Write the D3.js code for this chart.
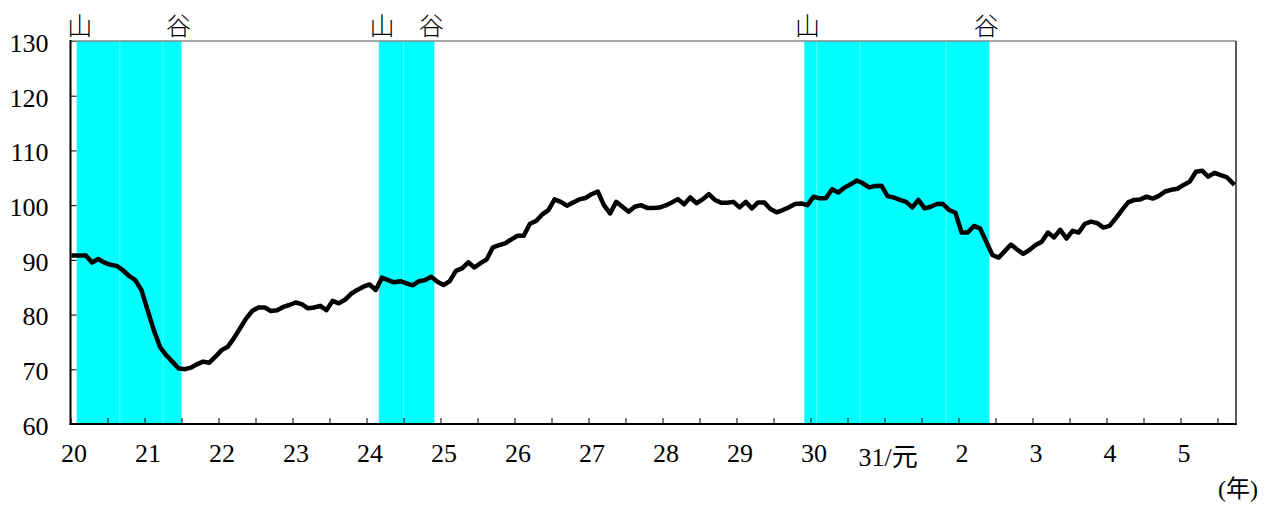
<!DOCTYPE html>
<html>
<head>
<meta charset="utf-8">
<script src="https://cdnjs.cloudflare.com/ajax/libs/d3/7.8.5/d3.min.js"></script>
<style>
  body { margin: 0; background: #fff; }
  .tick line { stroke: #000; }
  .serif { font-family: "Liberation Serif", serif; }
  .mixed { font-family: "Liberation Serif", "Noto Sans CJK JP", serif; }
  .cjk { font-family: "Noto Sans CJK JP", sans-serif; }
</style>
</head>
<body>
<div id="chart"></div>
<script>
// monthly index, 平成20年1月 (i = 0) .. 令和5年9月 (i = 188)
var values = [
  90.8, 90.8, 90.8, 89.5, 90.15, 89.5, 89.1, 88.9, 88.1, 87.05, 86.3, 84.5,
  80.8, 77.2, 74.1, 72.6, 71.4, 70.2, 70.0, 70.3, 70.9, 71.4, 71.2, 72.3,
  73.5, 74.1, 75.7, 77.5, 79.3, 80.7, 81.3, 81.3, 80.65, 80.8, 81.4, 81.75,
  82.2, 81.9, 81.15, 81.3, 81.6, 80.8, 82.5, 82.05, 82.7, 83.8, 84.5, 85.1,
  85.5, 84.5, 86.75, 86.3, 85.9, 86.1, 85.7, 85.35, 86.1, 86.3, 86.9, 86.0,
  85.4, 86.1, 88.0, 88.45, 89.55, 88.6, 89.4, 90.1, 92.3, 92.7, 93.0, 93.75,
  94.4, 94.4, 96.6, 97.1, 98.3, 99.1, 101.05, 100.6, 99.9, 100.5, 101.05, 101.3,
  102.0, 102.5, 100.0, 98.5, 100.6, 99.7, 98.8, 99.7, 100.0, 99.5, 99.5, 99.55,
  99.95, 100.5, 101.1, 100.15, 101.4, 100.35, 101.05, 102.0, 100.95, 100.45, 100.45, 100.6,
  99.6, 100.6, 99.4, 100.5, 100.5, 99.3, 98.7, 99.1, 99.6, 100.2, 100.3, 100.0,
  101.55, 101.25, 101.25, 102.9, 102.3, 103.2, 103.8, 104.5, 104.0, 103.25, 103.5, 103.55,
  101.65, 101.4, 100.95, 100.6, 99.6, 100.95, 99.4, 99.7, 100.2, 100.2, 99.1, 98.6,
  95.0, 95.0, 96.2, 95.75, 93.3, 90.9, 90.4, 91.6, 92.8, 91.9, 91.1, 91.8,
  92.7, 93.3, 95.0, 94.1, 95.5, 93.9, 95.3, 95.0, 96.6, 97.0, 96.7, 95.9,
  96.2, 97.6, 99.1, 100.5, 100.95, 101.05, 101.55, 101.2, 101.7, 102.5, 102.8, 103.0,
  103.7, 104.3, 106.1, 106.3, 105.2, 105.9, 105.5, 105.1, 104.0
];

var yearLabels = ["20", "21", "22", "23", "24", "25", "26", "27", "28", "29",
                  "30", "31/元", "2", "3", "4", "5"];
var yearMonths = [0, 12, 24, 36, 48, 60, 72, 84, 96, 108, 120, 132, 144, 156, 168, 180];
var halfYearTicks = [-0.5, 5.5, 11.5, 17.5, 23.5, 29.5, 35.5, 41.5, 47.5, 53.5, 59.5, 65.5,
                     71.5, 77.5, 83.5, 89.5, 95.5, 101.5, 107.5, 113.5, 119.5, 125.5, 131.5,
                     137.5, 143.5, 149.5, 155.5, 161.5, 167.5, 173.5, 179.5, 185.5];
var yTicks = [60, 70, 80, 90, 100, 110, 120, 130];

// 景気の山・谷 (month index)
var peaks = [1, 50, 119];
var troughs = [17, 58, 148];
// faint seams inside the shaded areas
var seams = [7.5, 14.5, 53.5, 120.5, 127.5, 141.5];

var W = 1269, H = 506;
var margin = {top: 41, right: 33, bottom: 82, left: 70.5};

var svg = d3.select("#chart").append("svg")
    .attr("width", W)
    .attr("height", H);

var x = d3.scaleLinear().domain([-0.5, values.length - 0.5]).range([margin.left, W - margin.right]);
var y = d3.scaleLinear().domain([60, 130]).range([H - margin.bottom, margin.top]);

// shaded recession periods
svg.selectAll(".shade")
    .data(peaks)
    .enter().append("rect")
    .attr("class", "shade")
    .attr("x", function(d){ return x(d - 0.5); })
    .attr("y", y(130))
    .attr("width", function(d, i){ return x(troughs[i] + 0.5) - x(d - 0.5); })
    .attr("height", y(60) - y(130))
    .attr("fill", "#00ffff");

svg.selectAll(".seam")
    .data(seams)
    .enter().append("line")
    .attr("class", "seam")
    .attr("x1", function(d){ return x(d); })
    .attr("x2", function(d){ return x(d); })
    .attr("y1", y(130))
    .attr("y2", y(60))
    .attr("stroke", "#fff")
    .attr("stroke-opacity", 0.35)
    .attr("stroke-width", 1);

// 山 / 谷 labels
svg.selectAll(".peak-label")
    .data(peaks)
    .enter().append("text")
    .attr("class", "cjk")
    .attr("x", function(d){ return x(d); })
    .attr("y", 35)
    .attr("text-anchor", "middle")
    .style("font-size", "25px")
    .style("font-weight", 300)
    .text("山");

svg.selectAll(".trough-label")
    .data(troughs)
    .enter().append("text")
    .attr("class", "cjk")
    .attr("x", function(d){ return x(d); })
    .attr("y", 35)
    .attr("text-anchor", "middle")
    .style("font-size", "25px")
    .style("font-weight", 300)
    .text("谷");

// axes
var yAxis = svg.append("g")
    .attr("transform", "translate(" + margin.left + ",0)")
    .call(d3.axisLeft(y).tickValues(yTicks).tickSize(-6).tickPadding(22));
yAxis.select(".domain").remove();
yAxis.attr("font-family", null).attr("font-size", null);
yAxis.selectAll("text")
    .attr("class", "serif")
    .style("font-size", "26px")
    .attr("fill", "#000")
    .attr("dy", "0.4em");

var xTicks = svg.append("g")
    .attr("transform", "translate(0," + y(60) + ")")
    .call(d3.axisBottom(x).tickValues(halfYearTicks).tickSize(-6).tickFormat(""));
xTicks.select(".domain").remove();

var xLabels = svg.append("g")
    .attr("transform", "translate(0," + y(60) + ")")
    .call(d3.axisBottom(x).tickValues(yearMonths).tickSize(0).tickPadding(20)
        .tickFormat(function(d, i){ return yearLabels[i]; }));
xLabels.select(".domain").remove();
xLabels.attr("font-family", null).attr("font-size", null);
xLabels.selectAll("text")
    .attr("class", "mixed")
    .style("font-size", "26px")
    .attr("fill", "#000")
    .attr("dy", function(d, i){ return yearLabels[i].length > 2 ? "0.86em" : "0.71em"; });

// frame
svg.append("line")
    .attr("x1", x.range()[0]).attr("x2", x.range()[1])
    .attr("y1", y(130)).attr("y2", y(130))
    .attr("stroke", "#888").attr("stroke-width", 1.6);
svg.append("line")
    .attr("x1", x.range()[1]).attr("x2", x.range()[1])
    .attr("y1", y(130)).attr("y2", y(60))
    .attr("stroke", "#333").attr("stroke-width", 1.6);

// index line
var line = d3.line()
    .x(function(d, i){ return x(i); })
    .y(function(d){ return y(d); });

svg.append("path")
    .datum(values)
    .attr("d", line)
    .attr("fill", "none")
    .attr("stroke", "#000")
    .attr("stroke-width", 4.5)
    .attr("stroke-linejoin", "round")
    .attr("stroke-linecap", "square");

svg.append("line")
    .attr("x1", x.range()[0]).attr("x2", x.range()[0])
    .attr("y1", y(130) - 1).attr("y2", y(60) + 1)
    .attr("stroke", "#000").attr("stroke-width", 2);
svg.append("line")
    .attr("x1", x.range()[0] - 1).attr("x2", x.range()[1] + 1)
    .attr("y1", y(60)).attr("y2", y(60))
    .attr("stroke", "#000").attr("stroke-width", 2);

svg.append("text")
    .attr("class", "mixed")
    .attr("x", 1258)
    .attr("y", 497)
    .attr("text-anchor", "end")
    .style("font-size", "24px")
    .text("(年)");
</script>
</body>
</html>
